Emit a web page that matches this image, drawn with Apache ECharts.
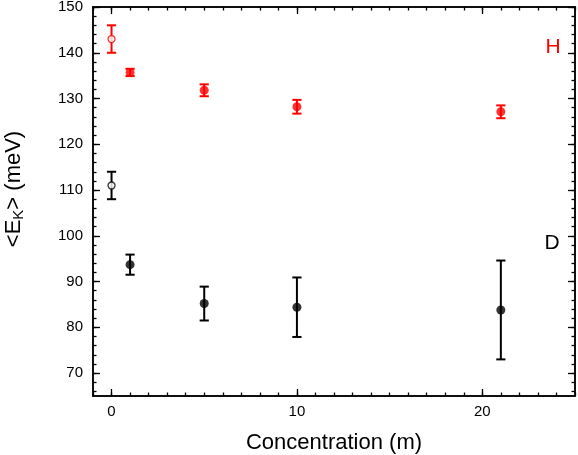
<!DOCTYPE html>
<html>
<head>
<meta charset="utf-8">
<script src="https://cdn.jsdelivr.net/npm/echarts@6/dist/echarts.min.js"></script>
<style>html,body{margin:0;padding:0;background:#fff}#c{width:578px;height:455px}</style>
</head>
<body>
<div id="c"></div>
<script>
// ---- data ----
const hConc = [1, 5, 10, 21];
const hVal  = [135.7, 131.8, 128.2, 127.1];
const hErr  = [0.8, 1.3, 1.5, 1.4];
const hOpenConc = [0];
const hOpenVal  = [143.0];
const hOpenErr  = [3.0];

const dConc = [1, 5, 10, 21];
const dVal  = [93.7, 85.2, 84.4, 83.8];
const dErr  = [2.2, 3.7, 6.5, 10.8];
const dOpenConc = [0];
const dOpenVal  = [111.0];
const dOpenErr  = [3.0];

const xMajor = [0, 10, 20];
const xMinor = [-1,0,1,2,3,4,5,6,7,8,9,10,11,12,13,14,15,16,17,18,19,20,21,22,23,24,25];
const yMajor = [70, 80, 90, 100, 110, 120, 130, 140, 150];
const yMinor = [66,68,70,72,74,76,78,80,82,84,86,88,90,92,94,96,98,100,102,104,106,108,110,112,114,116,118,120,122,124,126,128,130,132,134,136,138,140,142,144,146,148,150];

const xMin = -1, xMax = 25, yMin = 65, yMax = 150;
const FONT = 'Liberation Sans, Arial, sans-serif';

function pts(xs, ys) { return xs.map((x, i) => [x, ys[i]]); }
function errs(xs, ys, es) { return xs.map((x, i) => [x, ys[i] - es[i], ys[i] + es[i]]); }

function errRender(params, api) {
  const x = api.value(0);
  const lo = api.coord([x, api.value(1)]);
  const hi = api.coord([x, api.value(2)]);
  const cap = 4.6;
  const style = { stroke: api.visual('color'), lineWidth: 2 };
  return {
    type: 'group',
    children: [
      { type: 'line', shape: { x1: lo[0], y1: lo[1], x2: hi[0], y2: hi[1] }, style },
      { type: 'line', shape: { x1: lo[0] - cap, y1: lo[1], x2: lo[0] + cap, y2: lo[1] }, style },
      { type: 'line', shape: { x1: hi[0] - cap, y1: hi[1], x2: hi[0] + cap, y2: hi[1] }, style }
    ]
  };
}

const axisLine = { show: true, onZero: false, lineStyle: { color: '#000', width: 1.5 } };

function xAx(pos, vals, len, labels) {
  return {
    type: 'value', position: pos, min: xMin, max: xMax,
    axisLine, splitLine: { show: false },
    axisTick: { show: true, inside: true, length: len, customValues: vals, lineStyle: { color: '#000', width: 1.3 } },
    axisLabel: labels ? { show: true, customValues: xMajor, margin: 8, fontSize: 15, color: '#000', fontFamily: FONT } : { show: false },
    name: labels ? 'Concentration (m)' : '', nameLocation: 'middle', nameGap: 36,
    nameTextStyle: { fontSize: 22, color: '#000', fontFamily: FONT }
  };
}
function yAx(pos, vals, len, labels) {
  return {
    type: 'value', position: pos, min: yMin, max: yMax,
    axisLine, splitLine: { show: false },
    axisTick: { show: true, inside: true, length: len, customValues: vals, lineStyle: { color: '#000', width: 1.3 } },
    axisLabel: labels ? { show: true, customValues: yMajor, margin: 10, fontSize: 15, color: '#000', fontFamily: FONT } : { show: false },
    name: labels ? '<E{sub|K}> (meV)' : '', nameLocation: 'middle', nameGap: 67,
    nameTextStyle: { fontSize: 22, color: '#000', fontFamily: FONT, padding: [0, 0, 0, 25],
      rich: { sub: { fontSize: 15, color: '#000', fontFamily: FONT, padding: [10, 0, 0, 0] } } }
  };
}

const chart = echarts.init(document.getElementById('c'), null, { renderer: 'canvas' });
chart.setOption({
  animation: false,
  backgroundColor: '#fff',
  grid: { left: 93, right: 3, top: 7, bottom: 59, containLabel: false, outerBoundsMode: 'none' },
  xAxis: [ xAx('bottom', xMajor, 7, true), xAx('bottom', xMinor, 3.5, false),
           xAx('top', xMajor, 7, false), xAx('top', xMinor, 3.5, false) ],
  yAxis: [ yAx('left', yMajor, 7, true), yAx('left', yMinor, 3.5, false),
           yAx('right', yMajor, 7, false), yAx('right', yMinor, 3.5, false) ],
  series: [
    { type: 'custom', renderItem: errRender, itemStyle: { color: '#ff0000' }, data: errs(hConc, hVal, hErr), z: 2 },
    { type: 'custom', renderItem: errRender, itemStyle: { color: '#ff0000' }, data: errs(hOpenConc, hOpenVal, hOpenErr), z: 2 },
    { type: 'custom', renderItem: errRender, itemStyle: { color: '#000' }, data: errs(dConc, dVal, dErr), z: 2 },
    { type: 'custom', renderItem: errRender, itemStyle: { color: '#000' }, data: errs(dOpenConc, dOpenVal, dOpenErr), z: 2 },
    { type: 'scatter', symbol: 'circle', symbolSize: 9, itemStyle: { color: '#ff0000' }, data: pts(hConc, hVal), z: 3 },
    { type: 'scatter', symbol: 'circle', symbolSize: 7, itemStyle: { color: '#fff', borderColor: '#ff0000', borderWidth: 1.3 }, data: pts(hOpenConc, hOpenVal), z: 3 },
    { type: 'scatter', symbol: 'circle', symbolSize: 9, itemStyle: { color: '#000' }, data: pts(dConc, dVal), z: 3 },
    { type: 'scatter', symbol: 'circle', symbolSize: 7, itemStyle: { color: '#fff', borderColor: '#000', borderWidth: 1.3 }, data: pts(dOpenConc, dOpenVal), z: 3 }
  ],
  graphic: [
    { type: 'text', x: 553, y: 47, style: { text: 'H', fill: '#ff0000', font: '21px ' + FONT, textAlign: 'center', textVerticalAlign: 'middle' } },
    { type: 'text', x: 552, y: 243, style: { text: 'D', fill: '#000', font: '21px ' + FONT, textAlign: 'center', textVerticalAlign: 'middle' } }
  ]
});
</script>
</body>
</html>
